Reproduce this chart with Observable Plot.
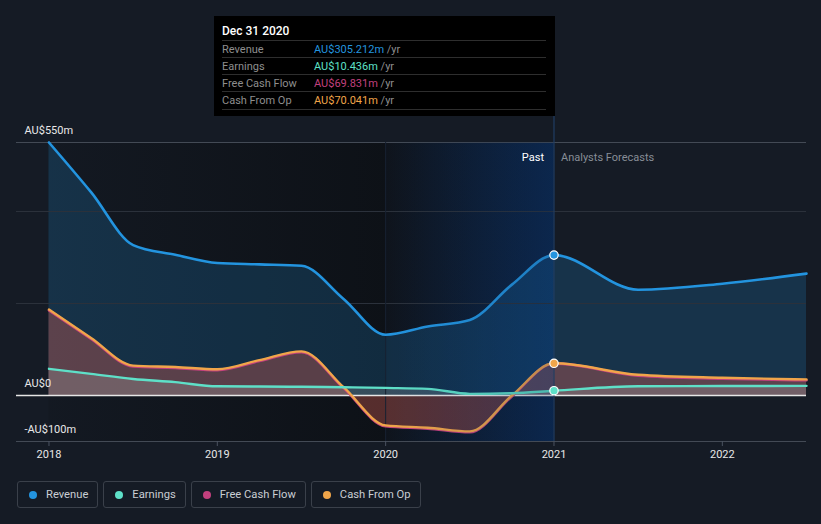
<!DOCTYPE html>
<html><head><meta charset="utf-8">
<script src="https://cdn.jsdelivr.net/npm/d3@7"></script>
<script src="https://cdn.jsdelivr.net/npm/@observablehq/plot@0.6"></script>
<style>
body{margin:0;background:#151b25;font-family:Roboto,"Noto Sans",sans-serif;}
#wrap{position:relative;width:821px;height:524px;overflow:hidden;background:#151b25;}
#chart{position:absolute;left:0;top:0;}
#tip{position:absolute;left:214px;top:16px;width:341px;height:100px;background:#000;}
#tip .hd{position:absolute;left:8px;top:8px;font-size:12px;font-weight:500;color:#fff;line-height:14px;}
#tip .row{position:absolute;left:8px;width:324px;height:17px;border-top:1px solid #2e2e2e;font-size:11px;line-height:17px;}
#tip .row.last{border-bottom:1px solid #2e2e2e;}
#tip .lab{position:absolute;left:0;color:#8e8e8e;}
#tip .val{position:absolute;left:92px;}
#tip .unit{color:#8e8e8e;}
#legend{position:absolute;left:17px;top:481px;display:flex;gap:5px;}
#legend .it{height:25px;border:1px solid #3a404a;border-radius:3px;display:flex;align-items:center;padding:0 9px 0 11px;font-size:11.2px;color:#c9cdd3;}
#legend .dot{width:8px;height:8px;border-radius:50%;margin-right:9px;}
</style></head><body>
<div id="wrap">
  <div id="chart"></div>
  <div id="tip"></div>
  <div id="legend"></div>
</div>
<script>
// ---- data (decimal years, values in AU$ millions) ----
const dates    = [2018.0, 2018.25, 2018.5, 2018.75, 2019.0, 2019.25, 2019.5, 2019.75, 2020.0, 2020.25, 2020.5, 2020.75, 2021.0, 2021.5, 2022.0, 2022.5];
const revenue  = [550, 442, 327, 306, 288, 285, 282, 210, 132, 150, 164, 241, 305.212, 230, 243, 265];
const earnings = [58, 47, 36, 29, 20, 19.5, 19, 18, 16.5, 14.5, 3.6, 5, 10.436, 20, 20.5, 21];
const fcf      = [185, 123, 63, 60, 55, 75, 94, 16, -67, -72, -80, -2, 69.831, 43, 36.5, 33];
const cfo      = [187, 125, 65, 62, 57, 77, 96, 18, -65, -70, -78, 0, 70.041, 45, 38.5, 35];
const seriesNames  = ["Revenue", "Earnings", "Free Cash Flow", "Cash From Op"];
const seriesColors = ["#2394df", "#5ee0c8", "#c2407e", "#f0a54a"];
const tipDate = "Dec 31 2020";
const tipValues = ["AU$305.212m", "AU$10.436m", "AU$69.831m", "AU$70.041m"];
const xTicks = [2018, 2019, 2020, 2021, 2022];
const yLabels = [550, 0, -100];
const nowDate = 2021.0;
const pastStart = 2020.0;

const rows = dates.map((d, i) => ({date: d, revenue: revenue[i], earnings: earnings[i], fcf: fcf[i], cfo: cfo[i]}));
const nowRow = rows.find(r => r.date === nowDate);
const nowPts = [
  {date: nowDate, v: nowRow.revenue, c: seriesColors[0]},
  {date: nowDate, v: nowRow.cfo, c: seriesColors[3]},
  {date: nowDate, v: nowRow.earnings, c: seriesColors[1]}
];
const fmtY = v => v === 0 ? "AU$0" : (v < 0 ? "-AU$" + (-v) + "m" : "AU$" + v + "m");

const x0 = 2018 - 32.5 / 168.5;
const curve = "monotone-x";
const plot = Plot.plot({
  width: 821, height: 465,
  marginTop: 142, marginBottom: 24, marginLeft: 16, marginRight: 15,
  style: {background: "transparent", color: "#e6e6e6", fontFamily: "Roboto, sans-serif", fontSize: "11px", overflow: "visible"},
  x: {domain: [x0, 2022.5], axis: null},
  y: {domain: [-100, 550], axis: null},
  marks: [
    Plot.rect([{a: dates[0], b: pastStart}], {x1: "a", x2: "b", fill: "url(#gDark)"}),
    Plot.rect([{a: pastStart, b: nowDate}], {x1: "a", x2: "b", fill: "url(#gPast)"}),
    Plot.areaY(rows, {x: "date", y: "revenue", fill: seriesColors[0], fillOpacity: 0.2, curve}),
    Plot.areaY(rows, {x: "date", y: "fcf", fill: "#d0405e", fillOpacity: 0.27, curve}),
    Plot.areaY(rows, {x: "date", y: "cfo", fill: seriesColors[3], fillOpacity: 0.12, curve}),
    Plot.areaY(rows, {x: "date", y: "earnings", fill: "#c8d0cc", fillOpacity: 0.2, curve}),
    Plot.ruleY([400, 200], {stroke: "#2b313b", strokeWidth: 1}),
    Plot.ruleY([550, -100], {stroke: "#434a55", strokeWidth: 1}),
    Plot.ruleX([pastStart], {stroke: "#172131", strokeWidth: 1}),
    Plot.ruleY([0], {stroke: "#e6e6e6", strokeWidth: 1.4}),
    Plot.lineY(rows, {x: "date", y: "revenue", stroke: seriesColors[0], strokeWidth: 2.6, curve}),
    Plot.lineY(rows, {x: "date", y: "fcf", stroke: seriesColors[2], strokeWidth: 2.6, curve}),
    Plot.lineY(rows, {x: "date", y: "cfo", stroke: seriesColors[3], strokeWidth: 2.4, curve}),
    Plot.lineY(rows, {x: "date", y: "earnings", stroke: seriesColors[1], strokeWidth: 2.4, curve}),
    Plot.rect([{a: pastStart, b: nowDate}], {x1: "a", x2: "b", fill: "url(#gOver)"}),
    Plot.ruleX([nowDate], {y1: () => -100, y2: () => 607, stroke: "#1f3d63", strokeWidth: 1.2}),
    Plot.dot(nowPts, {x: "date", y: "v", fill: "c", stroke: "#ffffff", strokeWidth: 1.2, r: 4.2}),
    Plot.text(["Past"], {x: () => nowDate, frameAnchor: "top", dx: -10, dy: 11, textAnchor: "end", fill: "#ffffff", fontSize: 11}),
    Plot.text(["Analysts Forecasts"], {x: () => nowDate, frameAnchor: "top", dx: 7, dy: 11, textAnchor: "start", fill: "#878d96", fontSize: 11}),
    Plot.text(yLabels, {y: d => d, text: fmtY, frameAnchor: "left", textAnchor: "start", dx: 8, dy: -12, fill: "#e8e8e8", fontSize: 11}),
    Plot.axisX({ticks: xTicks, tickFormat: d => String(d), tickSize: 5, tickPadding: 4, stroke: "#4a5260", fill: "#e8e8e8", fontSize: 11, label: null})
  ]
});

const svg = d3.select(plot);
const defs = svg.insert("defs", ":first-child");
function grad(id, stops) {
  const g = defs.append("linearGradient").attr("id", id).attr("x1", 0).attr("x2", 1).attr("y1", 0).attr("y2", 0);
  stops.forEach(s => g.append("stop").attr("offset", s[0]).attr("stop-color", s[1]).attr("stop-opacity", s[2]));
}
grad("gDark", [[0, "#0a0d11", 0.15], [1, "#0a0d11", 0.7]]);
grad("gPast", [[0, "#0a0e14", 0.55], [1, "#052d64", 0.6]]);
grad("gOver", [[0, "#0b2a55", 0.0], [1, "#0b2a55", 0.22]]);
document.getElementById("chart").appendChild(plot);

// tooltip
const tip = document.getElementById("tip");
tip.innerHTML = `<div class="hd">${tipDate}</div>` + seriesNames.map((n, i) =>
  `<div class="row${i === seriesNames.length - 1 ? " last" : ""}" style="top:${24 + i * 17}px"><span class="lab">${n}</span><span class="val"><span style="color:${seriesColors[i]}">${tipValues[i]}</span> <span class="unit">/yr</span></span></div>`).join("");

// legend
document.getElementById("legend").innerHTML = seriesNames.map((n, i) =>
  `<div class="it"><span class="dot" style="background:${seriesColors[i]}"></span>${n}</div>`).join("");
</script>
</body></html>
